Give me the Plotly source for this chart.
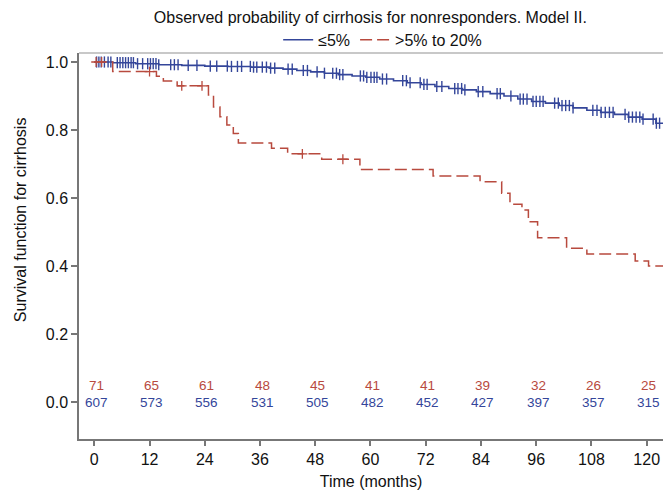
import numpy as np
import plotly.graph_objects as go

# ---------------- data ----------------
red_times = [0, 4.0, 13.5, 15.0, 18.0, 24.8, 25.9, 27.3, 28.8, 30.2, 31.3, 38.5, 42.0,
             49.4, 57.7, 73.6, 83.8, 88.5, 90.3, 92.9, 94.3, 96.3, 102.6, 107.0, 117.5, 120.4]
red_surv = [1.0, 0.972, 0.958, 0.944, 0.930, 0.903, 0.868, 0.839, 0.815, 0.790, 0.762, 0.746, 0.730,
            0.714, 0.684, 0.665, 0.648, 0.614, 0.582, 0.565, 0.530, 0.483, 0.452, 0.435, 0.415, 0.400]
red_censor = [0.4, 1.6, 12.0, 19.0, 23.4, 45.2, 54.0]

blue_times = [0, 4, 9, 14, 19, 24, 29, 34, 38, 41, 44, 47, 50, 53, 56, 59, 62, 65, 68, 71, 74,
              77, 80, 83, 86, 89, 92, 95, 98, 101, 104, 107, 110, 113, 116, 119, 122]
blue_surv = [1.0, 0.998, 0.995, 0.992, 0.990, 0.988, 0.987, 0.985, 0.982, 0.979, 0.975, 0.971,
             0.967, 0.963, 0.959, 0.955, 0.950, 0.945, 0.939, 0.934, 0.928, 0.922, 0.918, 0.913,
             0.907, 0.900, 0.891, 0.884, 0.879, 0.872, 0.865, 0.858, 0.852, 0.846, 0.838, 0.832, 0.820]
blue_censor = [0.5, 1.0, 1.5, 2.2, 3.0, 3.6, 5.0, 5.6, 6.2, 6.8, 7.4, 8.0, 8.5, 9.4, 10.5, 11.6,
               12.2, 12.8, 13.4, 14.0, 16.6, 17.4, 18.2, 20.4, 22.3, 25.2, 26.6, 28.9, 29.8, 31.1,
               32.0, 33.9, 34.6, 35.3, 36.5, 37.4, 38.3, 39.2, 42.1, 43.0, 45.4, 46.3, 48.4, 50.0,
               51.8, 52.6, 53.3, 54.0, 57.8, 58.5, 59.2, 60.1, 60.8, 61.4, 62.6, 63.5, 67.0, 67.8,
               68.6, 70.8, 71.6, 72.3, 74.4, 75.5, 78.3, 79.0, 79.8, 80.5, 83.4, 84.4, 87.5, 88.2,
               90.5, 92.5, 93.2, 94.0, 95.3, 96.0, 96.8, 97.5, 100.0, 100.8, 101.6, 102.4, 103.2,
               104.0, 108.3, 109.2, 110.1, 111.0, 111.9, 112.7, 115.3, 116.1, 116.9, 117.7, 118.5,
               119.2, 121.4, 122.1, 122.8]

risk_months = [0, 12, 24, 36, 48, 60, 72, 84, 96, 108, 120]
red_risk = [71, 65, 61, 48, 45, 41, 41, 39, 32, 26, 25]
blue_risk = [607, 573, 556, 531, 505, 482, 452, 427, 397, 357, 315]

x_ticks = [0, 12, 24, 36, 48, 60, 72, 84, 96, 108, 120]
y_ticks = [0.0, 0.2, 0.4, 0.6, 0.8, 1.0]

# ---------------- style ----------------
BLUE = "#34469a"
RED = "#b84a3e"
X_RANGE = [-3.32, 123.54]
Y_RANGE = [-0.1088, 1.0265]
FONT = "Liberation Sans, Arial, sans-serif"


def step_value(times, surv, t):
    idx = np.searchsorted(np.asarray(times), np.asarray(t), side="right") - 1
    return np.asarray(surv)[idx]


fig = go.Figure()

# blue curve
bx = list(blue_times) + [X_RANGE[1]]
by = list(blue_surv) + [blue_surv[-1]]
fig.add_trace(go.Scatter(x=bx, y=by, mode="lines", line_shape="hv",
                         line=dict(color=BLUE, width=1.6), name="≤5%"))
# red curve
rx = list(red_times) + [X_RANGE[1]]
ry = list(red_surv) + [red_surv[-1]]
fig.add_trace(go.Scatter(x=rx, y=ry, mode="lines", line_shape="hv",
                         line=dict(color=RED, width=1.5, dash="12px,5px"), name=">5% to 20%"))

# censor marks
fig.add_trace(go.Scatter(x=blue_censor, y=step_value(blue_times, blue_surv, blue_censor),
                         mode="markers", showlegend=False, hoverinfo="skip",
                         marker=dict(symbol="line-ns", size=8, color=BLUE,
                                     line=dict(color=BLUE, width=1.4))))
fig.add_trace(go.Scatter(x=red_censor, y=step_value(red_times, red_surv, red_censor),
                         mode="markers", showlegend=False, hoverinfo="skip",
                         marker=dict(symbol="cross-thin", size=7, color=RED,
                                     line=dict(color=RED, width=1.3))))

# numbers at risk
for m, r, b in zip(risk_months, red_risk, blue_risk):
    fig.add_annotation(x=m, y=0.05, text=str(r), showarrow=False, xshift=2,
                       font=dict(size=13.5, color=RED, family=FONT))
    fig.add_annotation(x=m, y=0.0, text=str(b), showarrow=False, xshift=2,
                       font=dict(size=13.5, color=BLUE, family=FONT))

# y-axis title as annotation
fig.add_annotation(xref="paper", yref="y", x=-0.101, y=0.535, xanchor="center", yanchor="middle",
                   text="Survival function for cirrhosis", textangle=-90, showarrow=False,
                   font=dict(size=16, color="#111", family=FONT))

# top frame line
fig.add_shape(type="line", xref="paper", yref="paper", x0=0, x1=1, y0=1, y1=1,
              line=dict(color="#c8c8c8", width=2))

fig.update_layout(
    width=663, height=490,
    margin=dict(l=79, r=0, t=53, b=51),
    paper_bgcolor="white", plot_bgcolor="white",
    font=dict(family=FONT, size=16, color="#111"),
    title=dict(text="Observed probability of cirrhosis for nonresponders. Model II.",
               x=0.499, xref="paper", xanchor="center", y=1 - 17 / 490, yanchor="middle",
               font=dict(size=16, color="#111", family=FONT)),
    legend=dict(orientation="h", x=0.52, xanchor="center", y=1.034, yanchor="middle",
                font=dict(size=16, color="#111", family=FONT), bgcolor="rgba(0,0,0,0)",
                itemwidth=30, tracegroupgap=0),
    showlegend=True,
)

fig.update_xaxes(range=X_RANGE, tickvals=x_ticks, ticks="outside", ticklen=5, tickwidth=1.5,
                 tickcolor="#777", showline=True, linecolor="#777", linewidth=1.5,
                 showgrid=False, zeroline=False, tickfont=dict(size=16, color="#111"),
                 title=dict(text="Time (months)", font=dict(size=16, color="#111"), standoff=10))
fig.update_yaxes(range=Y_RANGE, tickvals=y_ticks, tickformat=".1f", ticks="outside", ticklen=6,
                 tickwidth=1.5, tickcolor="#777", showline=True, linecolor="#777", linewidth=1.5,
                 showgrid=False, zeroline=False, tickfont=dict(size=16, color="#111"))

fig.write_html("out.html")
